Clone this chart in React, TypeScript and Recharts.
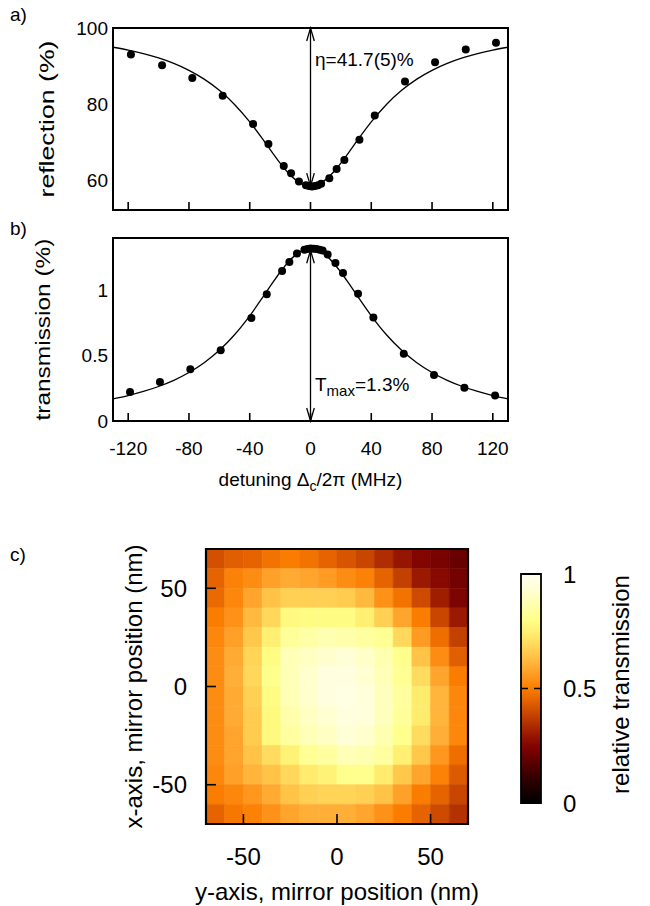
import React from 'react';
import { ComposedChart, Line, Scatter, XAxis, YAxis, ReferenceArea, ReferenceLine } from 'recharts';

const FONT = '"Liberation Sans", Arial, Helvetica, sans-serif';

// ---------- panel a / b data ----------
const detuningTicks = [-120, -80, -40, 0, 40, 80, 120];
const reflTicks = [60, 80, 100];
const transTicks = [0, 0.5, 1];

const reflDetuning = [-118.2, -97.7, -77.8, -57.8, -37.8, -27.7, -17.6, -12.8, -7.6, -3, -1, 1, 3, 5, 7, 12.4, 17.2, 22.3, 32.2, 42.3, 62.2, 82, 102.2, 122.1];
const reflValues = [93.0, 90.2, 86.8, 82.1, 74.7, 69.4, 63.6, 61.7, 59.5, 58.5, 58.3, 58.2, 58.3, 58.5, 58.9, 60.4, 62.8, 65.2, 70.5, 76.9, 85.9, 91.0, 94.3, 96.1];

const transDetuning = [-118.8, -99.1, -79.1, -59.1, -38.9, -28.8, -18.7, -13.9, -8.9, -4, -2, 0, 2, 4, 6, 8, 11.3, 16.4, 21.4, 31.3, 41.4, 61.4, 81.3, 101.3, 121.5];
const transValues = [0.222, 0.298, 0.396, 0.542, 0.788, 0.970, 1.148, 1.217, 1.281, 1.31, 1.315, 1.32, 1.318, 1.315, 1.31, 1.305, 1.273, 1.209, 1.132, 0.973, 0.791, 0.514, 0.352, 0.255, 0.196];

const fitDetuning = [-130, -120, -110, -100, -90, -80, -70, -60, -50, -40, -30, -25, -20, -15, -10, -5, 0, 5, 10, 15, 20, 25, 30, 40, 50, 60, 70, 80, 90, 100, 110, 120, 130];
const reflFit = [94.92, 94.17, 93.24, 92.09, 90.65, 88.83, 86.51, 83.56, 79.83, 75.22, 69.87, 67.08, 64.38, 61.95, 60.01, 58.74, 58.30, 58.74, 60.01, 61.95, 64.38, 67.08, 69.87, 75.22, 79.83, 83.56, 86.51, 88.83, 90.65, 92.09, 93.24, 94.17, 94.92];
const transFit = [0.170, 0.195, 0.226, 0.264, 0.311, 0.371, 0.446, 0.541, 0.660, 0.805, 0.971, 1.056, 1.138, 1.211, 1.269, 1.307, 1.320, 1.307, 1.269, 1.211, 1.138, 1.056, 0.971, 0.805, 0.660, 0.541, 0.446, 0.371, 0.311, 0.264, 0.226, 0.195, 0.170];

const reflArrow = [100, 58.3];
const transArrow = [1.306, 0];
const reflLabel = 'η=41.7(5)%';
const transLabelMain = 'T';
const transLabelSub = 'max';
const transLabelRest = '=1.3%';

// ---------- panel c data ----------
const mirrorYPos = [-65, -55, -45, -35, -25, -15, -5, 5, 15, 25, 35, 45, 55, 65];
const mirrorXPos = [65, 55, 45, 35, 25, 15, 5, -5, -15, -25, -35, -45, -55, -65];
const posTicks = [-50, 0, 50];
const colorbarTicks = [0, 0.5, 1];
const relTransmission = [
  [0.41, 0.44, 0.45, 0.48, 0.50, 0.48, 0.45, 0.42, 0.39, 0.34, 0.29, 0.25, 0.23, 0.20],
  [0.45, 0.51, 0.53, 0.57, 0.59, 0.58, 0.56, 0.53, 0.51, 0.45, 0.38, 0.30, 0.26, 0.22],
  [0.46, 0.52, 0.58, 0.64, 0.67, 0.67, 0.67, 0.66, 0.62, 0.54, 0.48, 0.40, 0.31, 0.24],
  [0.50, 0.54, 0.62, 0.69, 0.78, 0.79, 0.79, 0.79, 0.75, 0.67, 0.58, 0.50, 0.39, 0.30],
  [0.52, 0.57, 0.65, 0.75, 0.83, 0.85, 0.87, 0.86, 0.84, 0.82, 0.69, 0.56, 0.47, 0.38],
  [0.53, 0.59, 0.68, 0.79, 0.88, 0.90, 0.92, 0.94, 0.91, 0.87, 0.81, 0.64, 0.53, 0.44],
  [0.53, 0.60, 0.69, 0.81, 0.88, 0.92, 0.96, 0.96, 0.93, 0.88, 0.82, 0.70, 0.58, 0.50],
  [0.53, 0.59, 0.67, 0.79, 0.88, 0.92, 0.96, 0.97, 0.95, 0.89, 0.84, 0.74, 0.61, 0.52],
  [0.53, 0.59, 0.66, 0.78, 0.86, 0.90, 0.93, 0.96, 0.95, 0.89, 0.83, 0.74, 0.61, 0.52],
  [0.53, 0.58, 0.66, 0.78, 0.84, 0.88, 0.90, 0.94, 0.92, 0.87, 0.81, 0.70, 0.60, 0.52],
  [0.53, 0.58, 0.64, 0.70, 0.76, 0.82, 0.84, 0.88, 0.87, 0.84, 0.75, 0.65, 0.55, 0.47],
  [0.52, 0.57, 0.61, 0.64, 0.69, 0.74, 0.76, 0.81, 0.81, 0.74, 0.65, 0.58, 0.51, 0.43],
  [0.50, 0.52, 0.55, 0.59, 0.64, 0.67, 0.68, 0.68, 0.67, 0.64, 0.57, 0.50, 0.45, 0.39],
  [0.45, 0.49, 0.51, 0.54, 0.58, 0.60, 0.60, 0.60, 0.58, 0.54, 0.50, 0.45, 0.40, 0.35],
];

// colormap (style)
const cmapStops: [number, number[]][] = [
  [0, [0, 0, 0]], [0.1, [45, 0, 0]], [0.2, [105, 0, 0]], [0.25, [130, 5, 0]], [0.3, [155, 25, 0]],
  [0.35, [180, 50, 0]], [0.4, [205, 75, 0]], [0.45, [230, 100, 0]], [0.5, [250, 125, 0]],
  [0.55, [255, 150, 30]], [0.6, [255, 175, 55]], [0.65, [255, 200, 75]], [0.7, [255, 220, 95]],
  [0.75, [255, 240, 115]], [0.8, [255, 255, 135]], [0.85, [255, 255, 165]], [0.9, [255, 255, 195]],
  [0.95, [255, 255, 220]], [1, [255, 255, 240]],
];
const rgb = (c: number[]) => `rgb(${Math.round(c[0])},${Math.round(c[1])},${Math.round(c[2])})`;
function cmap(v: number) {
  for (let i = 1; i < cmapStops.length; i++) {
    const [v1, c1] = cmapStops[i];
    const [v0, c0] = cmapStops[i - 1];
    if (v <= v1) {
      const t = (v - v0) / (v1 - v0);
      return rgb(c0.map((a, k) => a + (c1[k] - a) * t));
    }
  }
  return rgb(cmapStops[cmapStops.length - 1][1]);
}

const toPoints = (xs: number[], ys: number[]) => xs.map((x, i) => ({ x, y: ys[i] }));
const reflPts = toPoints(reflDetuning, reflValues);
const transPts = toPoints(transDetuning, transValues);
const reflFitPts = toPoints(fitDetuning, reflFit);
const transFitPts = toPoints(fitDetuning, transFit);
const cellPts: { x: number; y: number; v: number }[] = [];
relTransmission.forEach((row, r) => row.forEach((v, c) => cellPts.push({ x: mirrorYPos[c], y: mirrorXPos[r], v })));
const colorbarPts = colorbarTicks.map((v) => ({ x: 0.5, y: v }));

const T = (size: number) => ({ fontFamily: FONT, fontSize: size, fill: '#000' });

const bottomTick = (len: number, labelDy: number | null, size: number) => (p: any) => (
  <g>
    <line x1={p.x} x2={p.x} y1={p.y} y2={p.y - len} stroke="#000" strokeWidth={1.6} />
    {labelDy !== null && (
      <text x={p.x} y={p.y + labelDy} textAnchor="middle" {...T(size)}>{String(p.payload.value)}</text>
    )}
  </g>
);
const topTick = (len: number) => (p: any) => (
  <line x1={p.x} x2={p.x} y1={p.y} y2={p.y + len} stroke="#000" strokeWidth={1.6} />
);
const leftTick = (len: number, margin: number, size: number) => (p: any) => (
  <g>
    {len > 0 && <line x1={p.x + margin} x2={p.x + margin + len} y1={p.y} y2={p.y} stroke="#000" strokeWidth={1.6} />}
    <text x={p.x} y={p.y} dy="0.36em" textAnchor="end" {...T(size)}>{String(p.payload.value)}</text>
  </g>
);
const rightTick = (len: number) => (p: any) => (
  <line x1={p.x} x2={p.x - len} y1={p.y} y2={p.y} stroke="#000" strokeWidth={1.6} />
);
const rightLabelTick = (size: number) => (p: any) => (
  <text x={p.x} y={p.y} dy="0.36em" textAnchor="start" {...T(size)}>{String(p.payload.value)}</text>
);

const arrowShape = (labelFn: (x: number, top: number, bot: number) => React.ReactNode) => (p: any) => {
  const x = p.x1;
  const top = Math.min(p.y1, p.y2);
  const bot = Math.max(p.y1, p.y2);
  const hl = 13;
  const hw = 3.8;
  return (
    <g>
      <line x1={x} x2={x} y1={top} y2={bot} stroke="#000" strokeWidth={1.3} />
      <polyline points={`${x - hw},${top + hl} ${x},${top} ${x + hw},${top + hl}`} fill="none" stroke="#000" strokeWidth={1.3} />
      <polyline points={`${x - hw},${bot - hl} ${x},${bot} ${x + hw},${bot - hl}`} fill="none" stroke="#000" strokeWidth={1.3} />
      {labelFn(x, top, bot)}
    </g>
  );
};

const dotShape = (p: any) => <circle cx={p.cx} cy={p.cy} r={4} fill="#000" />;
const noShape = () => <g />;

const rotTitle = (text: string, dx: number, len: number | null, size: number) => (p: any) => {
  const vb = p.viewBox || {};
  const cx = vb.x + dx;
  const cy = vb.y + vb.height / 2;
  const extra: any = len ? { textLength: len, lengthAdjust: 'spacingAndGlyphs' } : {};
  return (
    <text x={cx} y={cy} transform={`rotate(-90 ${cx} ${cy})`} textAnchor="middle" {...T(size)} {...extra}>{text}</text>
  );
};

const W = 650;

function PanelA() {
  return (
    <ComposedChart width={W} height={230} margin={{ top: 28, right: 142, bottom: 0, left: 0 }}>
      <XAxis dataKey="x" type="number" domain={[-130, 130]} ticks={detuningTicks} height={20}
        tickSize={0} tickMargin={0} axisLine={false} tickLine={false} tick={bottomTick(8, null, 19)} />
      <YAxis type="number" domain={[52, 100]} ticks={reflTicks} width={113} tickSize={0} tickMargin={5}
        axisLine={false} tickLine={false} tick={leftTick(0, 5, 19)}
        label={{ content: rotTitle('reflection (%)', 54, 157, 20) }} />
      <ReferenceArea x1={-130} x2={130} y1={52} y2={100} fill="none" stroke="#000" strokeWidth={2} ifOverflow="visible" />
      <Line data={reflFitPts} dataKey="y" type="monotone" stroke="#000" strokeWidth={1.3} dot={false} isAnimationActive={false} />
      <Scatter data={reflPts} dataKey="y" shape={dotShape} isAnimationActive={false} />
      <ReferenceLine segment={[{ x: 0, y: reflArrow[0] }, { x: 0, y: reflArrow[1] }]} ifOverflow="visible"
        shape={arrowShape((x, top) => (
          <text x={x + 4.5} y={top + 38} {...T(19)}>{reflLabel}</text>
        ))} />
    </ComposedChart>
  );
}

function PanelB() {
  return (
    <ComposedChart width={W} height={270} margin={{ top: 8, right: 142, bottom: 0, left: 0 }}>
      <XAxis dataKey="x" type="number" domain={[-130, 130]} ticks={detuningTicks} height={79}
        tickSize={0} tickMargin={0} axisLine={false} tickLine={false} tick={bottomTick(8, 34, 19)}
        label={{
          content: (p: any) => {
            const vb = p.viewBox || {};
            return (
              <text x={vb.x + vb.width / 2} y={vb.y + 65} textAnchor="middle" {...T(19)}>
                detuning Δ<tspan fontSize={14} dy={5}>c</tspan><tspan dy={-5}>/2π (MHz)</tspan>
              </text>
            );
          },
        }} />
      <YAxis type="number" domain={[0, 1.4]} ticks={transTicks} width={113} tickSize={0} tickMargin={5}
        axisLine={false} tickLine={false} tick={leftTick(0, 5, 19)}
        label={{ content: rotTitle('transmission (%)', 50, 182, 20) }} />
      <ReferenceArea x1={-130} x2={130} y1={0} y2={1.4} fill="none" stroke="#000" strokeWidth={2} ifOverflow="visible" />
      <Line data={transFitPts} dataKey="y" type="monotone" stroke="#000" strokeWidth={1.3} dot={false} isAnimationActive={false} />
      <Scatter data={transPts} dataKey="y" shape={dotShape} isAnimationActive={false} />
      <ReferenceLine segment={[{ x: 0, y: transArrow[0] }, { x: 0, y: transArrow[1] }]} ifOverflow="visible"
        shape={arrowShape((x, _top, bot) => (
          <text x={x + 4.5} y={bot - 30} {...T(19)}>
            {transLabelMain}<tspan fontSize={15} dy={5}>{transLabelSub}</tspan><tspan dy={-5}>{transLabelRest}</tspan>
          </text>
        ))} />
    </ComposedChart>
  );
}

function PanelC() {
  const half = (mirrorYPos[1] - mirrorYPos[0]) / 2;
  const cells: React.ReactNode[] = [];
  relTransmission.forEach((row, r) =>
    row.forEach((v, c) => {
      const col = cmap(v);
      cells.push(
        <ReferenceArea key={`c${r}-${c}`} x1={mirrorYPos[c] - half} x2={mirrorYPos[c] + half}
          y1={mirrorXPos[r] - half} y2={mirrorXPos[r] + half} fill={col} fillOpacity={1}
          stroke={col} strokeWidth={0.6} ifOverflow="visible" />
      );
    })
  );
  return (
    <ComposedChart width={W} height={366} margin={{ top: 9, right: 182, bottom: 0, left: 0 }}>
      <XAxis dataKey="x" type="number" domain={[-70, 70]} ticks={posTicks} height={82} allowDataOverflow
        tickSize={0} tickMargin={0} axisLine={false} tickLine={false} tick={bottomTick(10, 41, 24)}
        label={{
          content: (p: any) => {
            const vb = p.viewBox || {};
            return <text x={vb.x + vb.width / 2} y={vb.y + 76} textAnchor="middle" {...T(24)}>y-axis, mirror position (nm)</text>;
          },
        }} />
      <XAxis xAxisId="top" orientation="top" dataKey="x" type="number" domain={[-70, 70]} ticks={posTicks} height={0} allowDataOverflow
        tickSize={0} tickMargin={0} axisLine={false} tickLine={false} tick={topTick(10)} />
      <YAxis type="number" domain={[-70, 70]} ticks={posTicks} width={206} tickSize={0} tickMargin={19} allowDataOverflow
        axisLine={false} tickLine={false} tick={leftTick(10, 19, 24)}
        label={{ content: rotTitle('x-axis, mirror position (nm)', 142, null, 24) }} />
      <YAxis yAxisId="right" orientation="right" type="number" domain={[-70, 70]} ticks={posTicks} width={0} allowDataOverflow
        tickSize={0} tickMargin={0} axisLine={false} tickLine={false} tick={rightTick(10)} />
      <Scatter data={cellPts} dataKey="y" shape={noShape} isAnimationActive={false} />
      {cells}
      <ReferenceArea x1={-70} x2={70} y1={-70} y2={70} fill="none" stroke="#000" strokeWidth={2.2} ifOverflow="visible" />
    </ComposedChart>
  );
}

function ColorBar() {
  return (
    <ComposedChart width={140} height={260} margin={{ top: 14, right: 0, bottom: 17, left: 11 }}>
      <defs>
        <linearGradient id="cbgrad" x1="0" y1="1" x2="0" y2="0">
          {cmapStops.map(([v, c]) => <stop key={v} offset={v} stopColor={rgb(c)} />)}
        </linearGradient>
      </defs>
      <XAxis dataKey="x" type="number" domain={[0, 1]} hide />
      <YAxis orientation="right" type="number" domain={[0, 1]} ticks={colorbarTicks} width={109}
        tickSize={0} tickMargin={22} axisLine={false} tickLine={false} tick={rightLabelTick(24)}
        label={{
          content: (p: any) => {
            const vb = p.viewBox || {};
            const cx = vb.x + 88;
            const cy = vb.y + vb.height / 2 - 4;
            return <text x={cx} y={cy} transform={`rotate(-90 ${cx} ${cy})`} textAnchor="middle" {...T(24)}>relative transmission</text>;
          },
        }} />
      <Scatter data={colorbarPts} dataKey="y" shape={noShape} isAnimationActive={false} />
      <ReferenceArea x1={0} x2={1} y1={0} y2={1} fill="url(#cbgrad)" fillOpacity={1} stroke="none" ifOverflow="visible" />
      <ReferenceLine y={0.5} stroke="#000" strokeWidth={1.6} strokeDasharray="7 6" />
      <ReferenceArea x1={0} x2={1} y1={0} y2={1} fill="none" stroke="#000" strokeWidth={1.8} ifOverflow="visible" />
    </ComposedChart>
  );
}

const panelLabel = (text: string, left: number, top: number) => (
  <div style={{ position: 'absolute', left, top, fontFamily: FONT, fontSize: 19, lineHeight: '19px', color: '#000' }}>{text}</div>
);

export default function App() {
  return (
    <div style={{ position: 'absolute', left: 0, top: 0, width: 650, height: 906, background: '#fff', overflow: 'hidden' }}>
      <div style={{ position: 'absolute', left: 0, top: 0 }}><PanelA /></div>
      <div style={{ position: 'absolute', left: 0, top: 230 }}><PanelB /></div>
      <div style={{ position: 'absolute', left: 0, top: 540 }}><PanelC /></div>
      <div style={{ position: 'absolute', left: 510, top: 560 }}><ColorBar /></div>
      {panelLabel('a)', 10, 5)}
      {panelLabel('b)', 10, 219)}
      {panelLabel('c)', 10, 545)}
    </div>
  );
}
